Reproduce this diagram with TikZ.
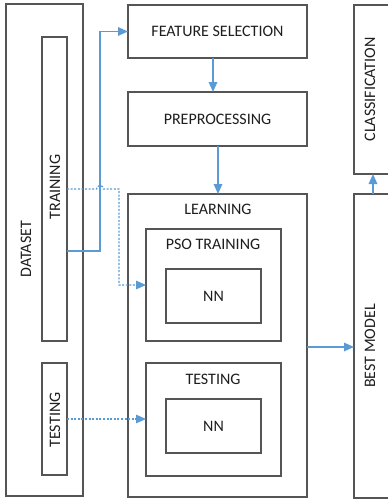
\documentclass[tikz,border=0pt]{standalone}
\usepackage{fontspec}
\setmainfont{Carlito}
\usetikzlibrary{arrows.meta}
\definecolor{boxgray}{RGB}{85,85,85}
\definecolor{flowblue}{RGB}{91,155,213}
\definecolor{txt}{RGB}{30,30,30}
\tikzset{
  box/.style={draw=boxgray, line width=1.2pt, inner sep=0pt, outer sep=0pt, fill=white, text=txt, font=\fontsize{16}{19}\selectfont},
  lbl/.style={inner sep=0pt, text=txt, font=\fontsize{16}{19}\selectfont},
  vlbl/.style={lbl, rotate=90},
  flow/.style={draw=flowblue, line width=1.6pt, -{Triangle[length=10pt,width=8.5pt]}},
  dflow/.style={draw=flowblue, line width=1.3pt, dash pattern=on 2pt off 1.6pt, -{Triangle[length=10pt,width=8.5pt]}},
}
\begin{document}
\begin{tikzpicture}[x=1pt,y=-1pt]
\useasboundingbox (0,0) rectangle (388,499);
\clip (0,0) rectangle (388,499);
% dataset side
\node[box, minimum width=77pt, minimum height=492pt] (DATA) at (44.5,250) {};
\node[vlbl] (DATAL) at (26,249) {DATASET};
\node[box, minimum width=25pt, minimum height=304pt] (TRAIN) at (54.5,189) {};
\node[vlbl] (TRAINL) at (55,187) {TRAINING};
\node[box, minimum width=25pt, minimum height=112pt] (TEST) at (54.5,419) {};
\node[vlbl] (TESTL) at (55,420) {TESTING};
% middle column
\node[box, minimum width=179pt, minimum height=53pt] (FS) at (217.5,31.5) {FEATURE SELECTION};
\node[box, minimum width=179pt, minimum height=54pt] (PREP) at (217.5,119) {PREPROCESSING};
\node[box, minimum width=179pt, minimum height=303pt] (LEARN) at (217.5,345.5) {};
\node[lbl] (LEARNL) at (218,209) {LEARNING};
\node[box, minimum width=135pt, minimum height=112pt] (PSO) at (213.5,285) {};
\node[lbl] (PSOL) at (213,244) {PSO TRAINING};
\node[box, minimum width=95pt, minimum height=54pt] (NN1) at (213.5,296) {NN};
\node[box, minimum width=135pt, minimum height=113pt] (TESTB) at (213.5,419.5) {};
\node[lbl] (TESTBL) at (213,379) {TESTING};
\node[box, minimum width=95pt, minimum height=54pt] (NN2) at (213.5,426) {NN};
% right column
\node[box, minimum width=45pt, minimum height=169pt] (CLASS) at (376.5,89.5) {};
\node[vlbl] (CLASSL) at (370,89.5) {CLASSIFICATION};
\node[box, minimum width=45pt, minimum height=304pt] (BEST) at (376.5,346) {};
\node[vlbl] (BESTL) at (370,346) {BEST MODEL};
% connectors
\coordinate (j1) at (100,251);
\coordinate (j2) at (119,285);
\coordinate (c1) at (373,0);
\coordinate (c2) at (0,347);
\coordinate (c3) at (218,0);
\draw[flow] (j1 -| TRAIN.east) -- (j1) |- (FS.west);
\draw[flow] ([xshift=-4.5pt]FS.south) -- ([xshift=-4.5pt]PREP.north);
\draw[flow] (PREP.south -| c3) -- (LEARN.north -| c3);
\draw[flow] (c2 -| LEARN.east) -- (c2 -| BEST.west);
\draw[flow] (BEST.north -| c1) -- (CLASS.south -| c1);
\draw[dflow] (TRAIN.east) -- ([xshift=-3.5pt]TRAIN.east -| j1) .. controls ([xshift=-3.5pt,yshift=4.5pt]TRAIN.east -| j1) and ([xshift=3.5pt,yshift=4.5pt]TRAIN.east -| j1) .. ([xshift=3.5pt]TRAIN.east -| j1) -- (TRAIN.east -| j2) -- (j2) -- (PSO.west);
\draw[dflow] (TEST.east) -- (TEST.east -| TESTB.west);
\end{tikzpicture}
\end{document}
